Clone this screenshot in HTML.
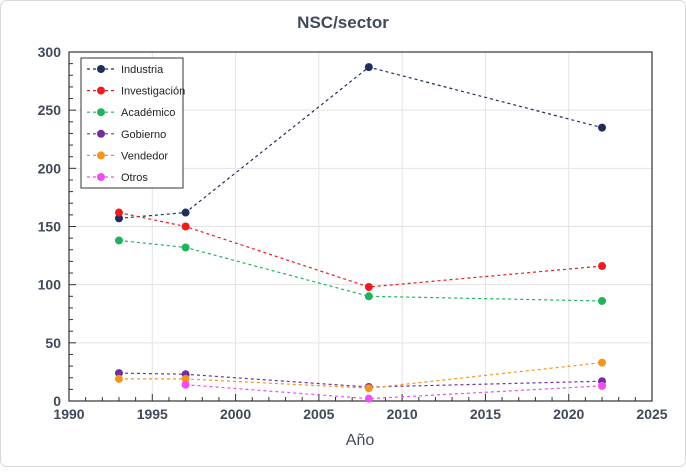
<!DOCTYPE html>
<html><head><meta charset="utf-8"><style>
body{margin:0;background:#fff;width:686px;height:467px;overflow:hidden}
svg{font-family:"Liberation Sans",sans-serif}
</style></head><body>
<svg id="chart" width="686" height="467">
<rect x="0.5" y="0.5" width="685" height="466" rx="6" fill="#fff" stroke="#d9d9d9"/>
<text x="343" y="28" text-anchor="middle" font-size="17" font-weight="bold" fill="#404a5a">NSC/sector</text>
<g id="grid"></g><g id="axes"></g><g id="series"></g><g id="legend"></g>
<text x="360" y="445" text-anchor="middle" font-size="16" fill="#404a5a">Año</text>
</svg>
<script>
const years=[1993,1997,2008,2022];
const industria=[157,162,287,235];
const investigacion=[162,150,98,116];
const academico=[138,132,90,86];
const gobierno=[24,23,12,17];
const vendedor=[19,19,11,33];
const otros=[null,14,2,13];
const xTicks=[1990,1995,2000,2005,2010,2015,2020,2025];
const yTicks=[0,50,100,150,200,250,300];
const seriesNames=["Industria","Investigación","Académico","Gobierno","Vendedor","Otros"];
const seriesData=[industria,investigacion,academico,gobierno,vendedor,otros];
const colors=["#1f2f5a","#ee1c1c","#1fb35a","#7030a0","#f7941d","#f14cf0"];
const L=69,R=652,T=52,B=401;
const xs=v=>L+(v-1990)/35*(R-L);
const ys=v=>B-v/300*(B-T);
const NS="http://www.w3.org/2000/svg";
function mk(tag,attrs,parent){const e=document.createElementNS(NS,tag);for(const k in attrs)e.setAttribute(k,attrs[k]);parent.appendChild(e);return e;}
const grid=document.getElementById('grid'),axes=document.getElementById('axes'),ser=document.getElementById('series'),leg=document.getElementById('legend');
xTicks.forEach(t=>{
 const l=mk('line',{x1:xs(t),x2:xs(t),y1:T,y2:B,stroke:'#e3e3e3'},grid);
 
 
 const tx=mk('text',{x:xs(t),y:B+18,'text-anchor':'middle','font-size':14,'font-weight':'bold',fill:'#404a5a'},axes);
 tx.textContent=t;
 
 
});
yTicks.forEach(t=>{
 const l=mk('line',{x1:L,x2:R,y1:ys(t),y2:ys(t),stroke:'#e3e3e3'},grid);
 
 
 const tx=mk('text',{x:L-8,y:ys(t)+5,'text-anchor':'end','font-size':14,'font-weight':'bold',fill:'#404a5a'},axes);
 tx.textContent=t;
 
 
});
for(let y=1990;y<=2025;y++){mk('line',{x1:xs(y),x2:xs(y),y1:B,y2:B-(y%5?4:7),stroke:'#333'},axes);}
for(let v=0;v<=300;v+=10){mk('line',{x1:L,x2:L+(v%50?4:7),y1:ys(v),y2:ys(v),stroke:'#333'},axes);}
const fr=mk('rect',{x:L,y:T,width:R-L,height:B-T,fill:'none',stroke:'#333','stroke-width':1.2},axes);


seriesData.forEach((d,i)=>{
 const pts=[];d.forEach((v,j)=>{if(v!==null)pts.push([xs(years[j]),ys(v)]);});
 const pl=mk('polyline',{points:pts.map(p=>p.join(',')).join(' '),fill:'none',stroke:colors[i],'stroke-width':1.2,'stroke-dasharray':'3,3'},ser);
 
 
 pts.forEach(p=>{const c=mk('circle',{cx:p[0],cy:p[1],r:4,fill:colors[i]},ser);
  
  });
});
const lb=mk('rect',{x:81,y:58,width:102,height:130,fill:'#fff',stroke:'#333'},leg);


seriesNames.forEach((n,i)=>{
 const y=69+i*21.6;
 mk('line',{x1:87,x2:115,y1:y,y2:y,stroke:colors[i],'stroke-dasharray':'3,3','stroke-width':1.2},leg);
 mk('circle',{cx:101,cy:y,r:4,fill:colors[i]},leg);
 const t=mk('text',{x:121,y:y+4,'font-size':11,fill:'#222'},leg);
 t.textContent=n;
 
 
});
</script>
</body></html>
